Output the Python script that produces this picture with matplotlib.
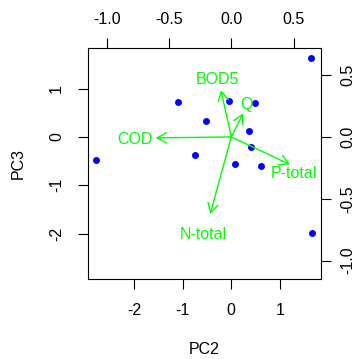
import numpy as np
import matplotlib.pyplot as plt

plt.rcParams['font.family'] = ['Liberation Sans', 'DejaVu Sans']
plt.rcParams['axes.unicode_minus'] = False

# scores (PC2, PC3)
pc2 = [1.64, -1.09, -0.055, 0.49, -0.52, 0.37, 0.40, -0.74, 0.08, 0.60, -2.78, 1.66]
pc3 = [1.64, 0.72, 0.75, 0.71, 0.32, 0.12, -0.21, -0.37, -0.57, -0.60, -0.48, -1.98]

# loadings (arrow tips and label positions, secondary axes)
variables = ['COD', 'BOD5', 'Q', 'P-total', 'N-total']
arrow_x = [-0.605, -0.083, 0.094, 0.470, -0.169]
arrow_y = [-0.008, 0.377, 0.189, -0.223, -0.623]
label_x = [-0.774, -0.115, 0.121, 0.504, -0.223]
label_y = [-0.021, 0.465, 0.263, -0.295, -0.793]

lim = np.array([-2.94, 1.84])
ratio = 0.391
green = '#00FF00'
fs = 11.5

fig = plt.figure(figsize=(3.56, 3.59), dpi=100)
pos = [88/356, 1 - 279/359, (321-88)/356, (279-48)/359]
ax = fig.add_axes(pos)
ax.plot(pc2, pc3, 'o', color='#0000FF', ms=5, mec='none')
ax.set_xlim(lim)
ax.set_ylim(lim)
ax.set_xticks([-2, -1, 0, 1])
ax.set_yticks([-2, -1, 0, 1])
ax.tick_params(direction='out', length=7.2, width=0.8, labelsize=fs, pad=10)
ax.tick_params(axis='y', labelrotation=90)
for t in ax.get_yticklabels():
    t.set_va('center')
ax.set_xlabel('PC2', fontsize=fs)
ax.set_ylabel('PC3', fontsize=fs)
ax.xaxis.set_label_coords(0.5, -0.307)
ax.xaxis.label.set_va('center')
ax.yaxis.set_label_coords(-0.30, 0.5)
ax.yaxis.label.set_va('center')
for s in ax.spines.values():
    s.set_linewidth(0.8)

ax2 = fig.add_axes(pos, frameon=False)
ax2.set_xlim(lim * ratio)
ax2.set_ylim(lim * ratio)
ax2.xaxis.tick_top()
ax2.yaxis.tick_right()
ax2.set_xticks([-1.0, -0.5, 0.0, 0.5])
ax2.set_yticks([-1.0, -0.5, 0.0, 0.5])
ax2.set_xticklabels(['-1.0', '-0.5', '0.0', '0.5'])
ax2.set_yticklabels(['-1.0', '-0.5', '0.0', '0.5'])
ax2.tick_params(direction='out', length=7.2, width=0.8, labelsize=fs, pad=8)
ax2.tick_params(axis='y', labelrotation=90, pad=7)
for t in ax2.get_yticklabels():
    t.set_va('center')

for name, ax_, ay_, lx, ly in zip(variables, arrow_x, arrow_y, label_x, label_y):
    ax2.annotate('', xy=(ax_, ay_), xytext=(0, 0),
                 arrowprops=dict(arrowstyle='->,head_length=0.65,head_width=0.37',
                                 color=green, lw=1, shrinkA=0, shrinkB=0,
                                 mutation_scale=10))
    ax2.text(lx, ly, name, color=green, fontsize=fs, ha='center', va='center')

fig.savefig('out.png', dpi=100)
